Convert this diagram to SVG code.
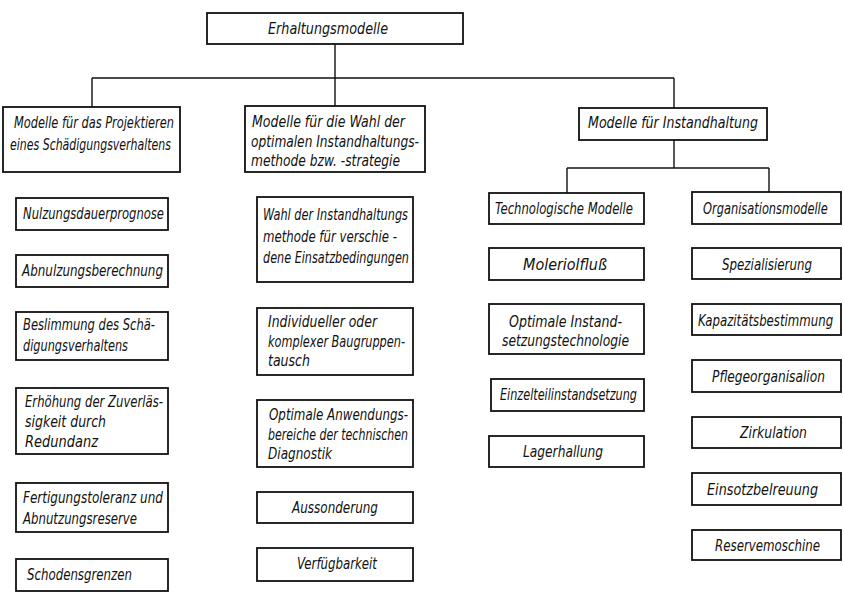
<svg xmlns="http://www.w3.org/2000/svg" width="843" height="597" viewBox="0 0 843 597">
<style>
rect{fill:#fff;stroke:#111;stroke-width:1.8}
text{font-family:"DejaVu Sans Condensed","DejaVu Sans",sans-serif;font-style:italic;font-size:15px;fill:#111}
.c line{stroke:#111;stroke-width:1.4}
</style>
<rect x="0" y="0" width="843" height="597" style="fill:#fff;stroke:none"/>
<g class="c" id="connectors">
<line x1="335" y1="44" x2="335" y2="106"/>
<line x1="92" y1="78" x2="674" y2="78"/>
<line x1="92" y1="78" x2="92" y2="107"/>
<line x1="674" y1="78" x2="674" y2="108"/>
<line x1="674" y1="140" x2="674" y2="168"/>
<line x1="567" y1="168" x2="769" y2="168"/>
<line x1="567" y1="168" x2="567" y2="193"/>
<line x1="769" y1="168" x2="769" y2="192"/>
</g>
<g id="root"><rect x="207" y="13" width="256" height="31"/><text x="268" y="34" textLength="120" lengthAdjust="spacingAndGlyphs">Erhaltungsmodelle</text></g>
<g id="m1"><rect x="3" y="107" width="177" height="65"/><text x="14" y="128" textLength="160" lengthAdjust="spacingAndGlyphs">Modelle für das Projektieren</text><text x="10" y="150" textLength="161" lengthAdjust="spacingAndGlyphs">eines Schädigungsverhaltens</text></g>
<g id="m2"><rect x="245" y="106" width="180" height="66"/><text x="252" y="127" textLength="153" lengthAdjust="spacingAndGlyphs">Modelle für die Wahl der</text><text x="251" y="147" textLength="168" lengthAdjust="spacingAndGlyphs">optimalen Instandhaltungs-</text><text x="251" y="166" textLength="149" lengthAdjust="spacingAndGlyphs">methode bzw. -strategie</text></g>
<g id="m3"><rect x="579" y="108" width="188" height="32"/><text x="588" y="128" textLength="170" lengthAdjust="spacingAndGlyphs">Modelle für Instandhaltung</text></g>
<g id="a1"><rect x="16" y="198" width="152" height="32"/><text x="23" y="219" textLength="141" lengthAdjust="spacingAndGlyphs">Nulzungsdauerprognose</text></g>
<g id="a2"><rect x="16" y="255" width="152" height="32"/><text x="22" y="276" textLength="141" lengthAdjust="spacingAndGlyphs">Abnulzungsberechnung</text></g>
<g id="a3"><rect x="16" y="312" width="152" height="48"/><text x="23" y="330" textLength="132" lengthAdjust="spacingAndGlyphs">Beslimmung des Schä-</text><text x="23" y="351" textLength="105" lengthAdjust="spacingAndGlyphs">digungsverhaltens</text></g>
<g id="a4"><rect x="16" y="388" width="152" height="66"/><text x="25" y="407" textLength="138" lengthAdjust="spacingAndGlyphs">Erhöhung der Zuverläs-</text><text x="25" y="427" textLength="81" lengthAdjust="spacingAndGlyphs">sigkeit durch</text><text x="25" y="447" textLength="73" lengthAdjust="spacingAndGlyphs">Redundanz</text></g>
<g id="a5"><rect x="16" y="483" width="152" height="49"/><text x="23" y="503" textLength="140" lengthAdjust="spacingAndGlyphs">Fertigungstoleranz und</text><text x="23" y="524" textLength="114" lengthAdjust="spacingAndGlyphs">Abnutzungsreserve</text></g>
<g id="a6"><rect x="16" y="559" width="152" height="32"/><text x="27" y="580" textLength="105" lengthAdjust="spacingAndGlyphs">Schodensgrenzen</text></g>
<g id="b1"><rect x="257" y="197" width="156" height="85"/><text x="263" y="220" textLength="145" lengthAdjust="spacingAndGlyphs">Wahl der Instandhaltungs</text><text x="263" y="242" textLength="134" lengthAdjust="spacingAndGlyphs">methode für verschie -</text><text x="263" y="263" textLength="146" lengthAdjust="spacingAndGlyphs">dene Einsatzbedingungen</text></g>
<g id="b2"><rect x="257" y="308" width="156" height="67"/><text x="268" y="327" textLength="109" lengthAdjust="spacingAndGlyphs">Individueller oder</text><text x="268" y="347" textLength="137" lengthAdjust="spacingAndGlyphs">komplexer Baugruppen-</text><text x="268" y="366" textLength="42" lengthAdjust="spacingAndGlyphs">tausch</text></g>
<g id="b3"><rect x="257" y="400" width="156" height="67"/><text x="269" y="420" textLength="139" lengthAdjust="spacingAndGlyphs">Optimale Anwendungs-</text><text x="268" y="440" textLength="140" lengthAdjust="spacingAndGlyphs">bereiche der technischen</text><text x="268" y="459" textLength="64" lengthAdjust="spacingAndGlyphs">Diagnostik</text></g>
<g id="b4"><rect x="257" y="492" width="156" height="31"/><text x="292" y="513" textLength="86" lengthAdjust="spacingAndGlyphs">Aussonderung</text></g>
<g id="b5"><rect x="257" y="548" width="156" height="33"/><text x="297" y="569" textLength="80" lengthAdjust="spacingAndGlyphs">Verfügbarkeit</text></g>
<g id="c0"><rect x="489" y="193" width="155" height="31"/><text x="495" y="214" textLength="138" lengthAdjust="spacingAndGlyphs">Technologische Modelle</text></g>
<g id="c1"><rect x="489" y="248" width="155" height="32"/><text x="523" y="270" textLength="84" lengthAdjust="spacingAndGlyphs">Moleriolfluß</text></g>
<g id="c2"><rect x="489" y="304" width="155" height="50"/><text x="509" y="327" textLength="113" lengthAdjust="spacingAndGlyphs">Optimale Instand-</text><text x="502" y="346" textLength="127" lengthAdjust="spacingAndGlyphs">setzungstechnologie</text></g>
<g id="c3"><rect x="491" y="379" width="153" height="32"/><text x="500" y="400" textLength="137" lengthAdjust="spacingAndGlyphs">Einzelteilinstandsetzung</text></g>
<g id="c4"><rect x="489" y="436" width="155" height="31"/><text x="523" y="457" textLength="80" lengthAdjust="spacingAndGlyphs">Lagerhallung</text></g>
<g id="d0"><rect x="692" y="192" width="149" height="32"/><text transform="translate(703,214) scale(0.8,1)" x="0" y="0" textLength="156" lengthAdjust="spacingAndGlyphs">Organisationsmodelle</text></g>
<g id="d1"><rect x="692" y="248" width="149" height="31"/><text x="722" y="270" textLength="90" lengthAdjust="spacingAndGlyphs">Spezialisierung</text></g>
<g id="d2"><rect x="692" y="304" width="149" height="31"/><text transform="translate(698,326) scale(0.8,1)" x="0" y="0" textLength="169" lengthAdjust="spacingAndGlyphs">Kapazitätsbestimmung</text></g>
<g id="d3"><rect x="692" y="360" width="149" height="32"/><text x="712" y="382" textLength="113" lengthAdjust="spacingAndGlyphs">Pflegeorganisalion</text></g>
<g id="d4"><rect x="692" y="417" width="149" height="31"/><text x="740" y="438" textLength="67" lengthAdjust="spacingAndGlyphs">Zirkulation</text></g>
<g id="d5"><rect x="692" y="473" width="149" height="32"/><text x="707" y="495" textLength="111" lengthAdjust="spacingAndGlyphs">Einsotzbelreuung</text></g>
<g id="d6"><rect x="692" y="530" width="149" height="30"/><text x="715" y="551" textLength="105" lengthAdjust="spacingAndGlyphs">Reservemoschine</text></g>
</svg>
